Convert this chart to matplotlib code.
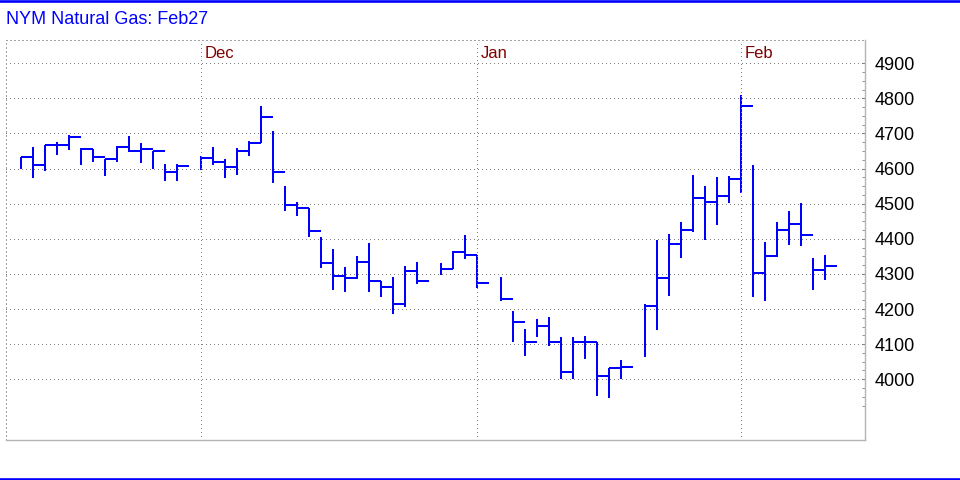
import numpy as np
import pandas as pd
import matplotlib
matplotlib.use('Agg')
import matplotlib.pyplot as plt
from matplotlib.lines import Line2D
from matplotlib.ticker import FixedLocator

plt.rcParams['font.family'] = ['Liberation Sans', 'DejaVu Sans']

# Trading days shown on the chart (holidays left as empty slots)
days = pd.bdate_range('2025-11-07', '2026-02-10')
holidays = ['2025-11-27', '2025-12-25', '2026-01-01', '2026-01-19']
trade_days = [d for d in days if d.strftime('%Y-%m-%d') not in holidays]

# High / low / close per trading day
highs = [4632, 4661, 4666, 4676, 4696, 4659, 4655, 4626, 4663, 4693, 4673, 4649, 4614, 4614,
         4637, 4661, 4627, 4658, 4677, 4778, 4706, 4550, 4504, 4489, 4406, 4372, 4320, 4352,
         4389, 4281, 4291, 4323, 4334,
         4331, 4366, 4410, 4353,
         4291, 4195, 4142, 4171, 4177, 4119, 4119, 4123, 4105, 4033, 4055,
         4214, 4397, 4414, 4448, 4582, 4550, 4576, 4579, 4808, 4610, 4391, 4447, 4478, 4501,
         4344, 4355]
lows = [4600, 4574, 4593, 4638, 4652, 4609, 4619, 4578, 4619, 4646, 4615, 4600, 4564, 4564,
        4596, 4609, 4572, 4583, 4637, 4674, 4560, 4478, 4466, 4404, 4316, 4253, 4248, 4286,
        4248, 4233, 4185, 4207, 4271,
        4296, 4314, 4342, 4260,
        4222, 4107, 4067, 4121, 4096, 4000, 4000, 4057, 3951, 3947, 4000,
        4063, 4139, 4238, 4346, 4418, 4397, 4438, 4503, 4529, 4233, 4222, 4349, 4382, 4379,
        4253, 4284]
closes = [4632, 4609, 4666, 4666, 4691, 4655, 4632, 4626, 4660, 4651, 4657, 4649, 4590, 4606,
          4631, 4620, 4603, 4651, 4674, 4748, 4589, 4495, 4489, 4423, 4330, 4293, 4287, 4333,
          4281, 4264, 4215, 4307, 4281,
          4315, 4362, 4353, 4273,
          4229, 4162, 4107, 4152, 4107, 4021, 4107, 4105, 4010, 4031, 4035,
          4209, 4289, 4385, 4425, 4517, 4505, 4523, 4571, 4779, 4302, 4350, 4425, 4442, 4410,
          4310, 4322]

# Month separators sit on the last trading day of the previous month
month_labels = ['Dec', 'Jan', 'Feb']
month_days = ['2025-11-28', '2025-12-31', '2026-01-30']

x = np.array([days.get_loc(d) for d in trade_days])
month_x = [days.get_loc(pd.Timestamp(d)) for d in month_days]

fig = plt.figure(figsize=(9.6, 4.8), dpi=100)
ax = fig.add_axes([6 / 960, 40 / 480, 859 / 960, 400 / 480])

bar_col = '#0000ff'
ax.vlines(x, lows, highs, color=bar_col, lw=1.44, antialiased=False)
ax.hlines(closes, x, x + 1, color=bar_col, lw=1.44, antialiased=False)

ax.set_xlim(-1.225, 70.36)
ax.set_ylim(3827, 4966)

dots = (0, (1, 3))
ax.yaxis.set_major_locator(FixedLocator(np.arange(4000, 4901, 100)))
ax.yaxis.set_minor_locator(FixedLocator([v for v in np.arange(3925, 4901, 25) if v % 100]))
ax.yaxis.grid(True, which='major', color='#808080', lw=0.72, linestyle=dots, antialiased=False)
for mx, lab in zip(month_x, month_labels):
    ax.axvline(mx, color='#808080', lw=0.72, linestyle=dots, antialiased=False)
    ax.annotate(lab, xy=(mx, 1), xycoords=('data', 'axes fraction'),
                xytext=(2.6, -9.8), textcoords='offset points',
                va='center', ha='left', fontsize=12, color='#800000')

ax.set_xticks([])
ax.yaxis.tick_right()
ax.tick_params(axis='y', which='both', direction='in', length=2.5, color='#808080',
               labelsize=13, pad=7)

for side in ['top', 'left']:
    ax.spines[side].set_linestyle(dots)
    ax.spines[side].set_color('#a0a0a0')
    ax.spines[side].set_linewidth(0.72)
    ax.spines[side].set_antialiased(False)
for side in ['right', 'bottom']:
    ax.spines[side].set_color('#b4b4b4')
    ax.spines[side].set_linewidth(1)

fig.text(6 / 960, 1 - 20 / 480, 'NYM Natural Gas: Feb27', color='#0000ff',
         fontsize=13, va='center', ha='left')

# Blue rules at the top and bottom of the image
fig.add_artist(Line2D([0, 1], [1 - 1.3 / 480] * 2, color='#0000ff', lw=1.9))
fig.add_artist(Line2D([0, 1], [1.3 / 480] * 2, color='#0000ff', lw=1.9))

fig.savefig('out.png', dpi=100)
